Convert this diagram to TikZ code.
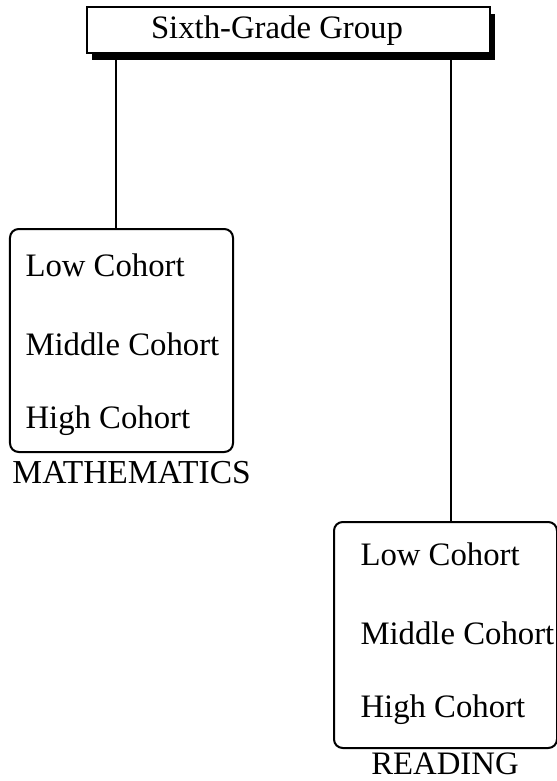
\documentclass[tikz,border=0pt]{standalone}
\usepackage{fontspec}
\setmainfont{Liberation Serif}
\usepackage{tikz}
\usetikzlibrary{positioning,calc,shadows}

\begin{document}
\begin{tikzpicture}[
  x=0.4pt, y=-0.4pt,
  grpbox/.style={draw, line width=0.8pt, fill=white, minimum width=161.2pt, minimum height=18.4pt,
                 inner sep=0pt,
                 drop shadow={shadow xshift=2pt, shadow yshift=-2.8pt, fill=black, opacity=1}},
  subjbox/.style={draw, line width=0.8pt, rounded corners=3.5pt, minimum width=89.2pt, inner sep=0pt},
  cohort/.style={anchor=base west, inner sep=0pt, font=\fontsize{13.1}{15}\selectfont},
  subj/.style={anchor=base, inner sep=0pt, font=\fontsize{13.1}{15}\selectfont},
  link/.style={line width=0.6pt},
]
\useasboundingbox (0,0) rectangle (557,781);

\node[grpbox] (grp) at (288.5,30) {};
\node[subj] (grptext) at (277,38) {Sixth-Grade Group};

% mathematics cohorts
\node[subjbox, minimum height=89.2pt] (mathbox) at (121.5,340.5) {};
\node[cohort] (mlow) at (25,276) {Low Cohort};
\node[cohort] (mmid) at (25,355) {Middle Cohort};
\node[cohort] (mhigh) at (25,428) {High Cohort};
\node[subj, anchor=base west, font=\fontsize{13.4}{15}\selectfont] (mathlbl) at (12,483) {MATHEMATICS};

% reading cohorts
\node[subjbox, minimum height=90.4pt] (readbox) at (445.5,635) {};
\node[cohort] (rlow) at (360,565) {Low Cohort};
\node[cohort] (rmid) at (360,644) {Middle Cohort};
\node[cohort] (rhigh) at (360,717) {High Cohort};
\node[subj] (readlbl) at (445,774) {READING};

\draw[link] (grp.south -| 116,0) -- (mathbox.north -| 116,0);
\draw[link] (grp.south -| 451,0) -- (readbox.north -| 451,0);
\end{tikzpicture}
\end{document}
